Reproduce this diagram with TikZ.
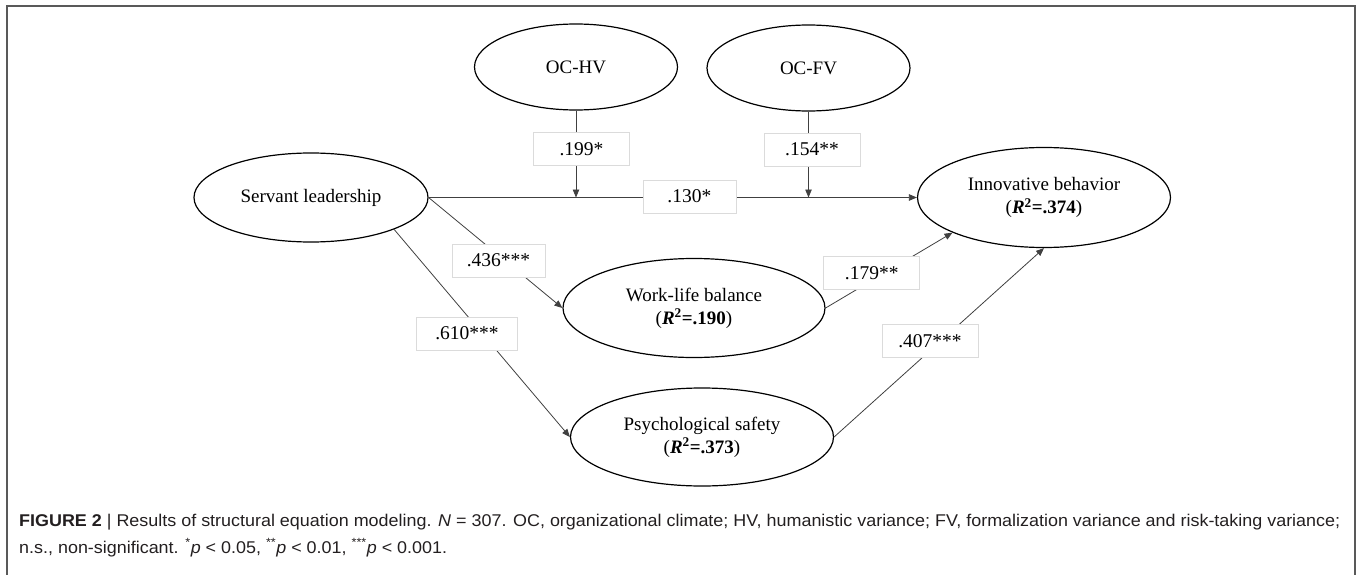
\documentclass[tikz,border=0pt]{standalone}
\usepackage{fontspec}
\setmainfont{Liberation Serif}
\newfontfamily\capfont{Liberation Sans}
\usetikzlibrary{arrows.meta,shapes.geometric}
\definecolor{capcol}{HTML}{231F20}
\newcommand\capone{\textbf{FIGURE 2} | Results of structural equation modeling. \textit{N} = 307. OC, organizational climate; HV, humanistic variance; FV, formalization variance and risk-taking variance;}
\newcommand\captwo{n.s., non-significant. \textsuperscript{*}\textit{p} < 0.05, \textsuperscript{**}\textit{p} < 0.01, \textsuperscript{***}\textit{p} < 0.001.}
\newcommand\capsize{\fontsize{17}{20}\selectfont}
\newlength\capw
\begin{document}
\settowidth\capw{\capfont\capsize\capone}
\pgfmathsetmacro\capsx{1321/\capw}
\begin{tikzpicture}[x=1pt,y=-1pt,
  lat/.style={draw=black,line width=1.2pt,ellipse,inner sep=0pt,align=center,font=\fontsize{19}{23}\selectfont},
  coef/.style={draw=black!14,line width=0.8pt,fill=white,minimum width=96pt,minimum height=33pt,inner sep=0pt,font=\fontsize{19.5}{23}\selectfont},
  conn/.style={draw=black!75,line width=0.8pt,-{Triangle[length=8pt,width=6.5pt]}},
  capt/.style={anchor=base west,inner sep=0pt,text=capcol}]
\useasboundingbox (0,0) rectangle (1357,575);
\draw[black!65,line width=1.5pt] (7,600) -- (7,6) -- (1355,6) -- (1355,600);

\node[lat,minimum width=203pt,minimum height=86pt] (hv) at (576,67) {OC-HV};
\node[lat,minimum width=203pt,minimum height=86pt] (fv) at (808.5,68) {OC-FV};
\node[lat,minimum width=234pt,minimum height=89pt] (sl) at (311,197.5) {Servant leadership};
\node[lat,minimum width=253pt,minimum height=100pt] (ib) at (1044,197.5) {Innovative behavior\\(\textbf{\textit{R}\textsuperscript{2}=.374})};
\node[lat,minimum width=262pt,minimum height=99pt] (wlb) at (694,308) {Work-life balance\\(\textbf{\textit{R}\textsuperscript{2}=.190})};
\node[lat,minimum width=263pt,minimum height=98pt] (ps) at (702,437) {Psychological safety\\(\textbf{\textit{R}\textsuperscript{2}=.373})};

\coordinate (mh) at (hv.south |- sl.east);
\coordinate (mf) at (fv.south |- sl.east);
\draw[conn] (sl.east) -- (ib.west);
\draw[conn] (hv.south) -- (mh);
\draw[conn] (fv.south) -- (mf);
\draw[conn] (sl.east) -- (wlb.west);
\draw[conn] (sl.-21) -- (ps.west);
\draw[conn] (wlb.east) -- (ib.201.6);
\draw[conn] (ps.east) -- (ib.south);

\node[coef] (c199) at (581.5,149) {.199*};
\node[coef] (c154) at (812,149.5) {.154**};
\node[coef,minimum width=93pt] (c130) at (689.4,196.5) {.130*};
\node[coef,minimum width=93pt] (c436) at (498.5,260.5) {.436***};
\node[coef,minimum width=101pt] (c610) at (467,333.5) {.610***};
\node[coef] (c179) at (871.7,272.7) {.179**};
\node[coef] (c407) at (930,341) {.407***};

\node[capt] (cap1) at (19,526) {\scalebox{\capsx}[1]{\capfont\capsize\capone}};
\node[capt] (cap2) at (19,553) {\scalebox{\capsx}[1]{\capfont\capsize\captwo}};
\end{tikzpicture}
\end{document}
